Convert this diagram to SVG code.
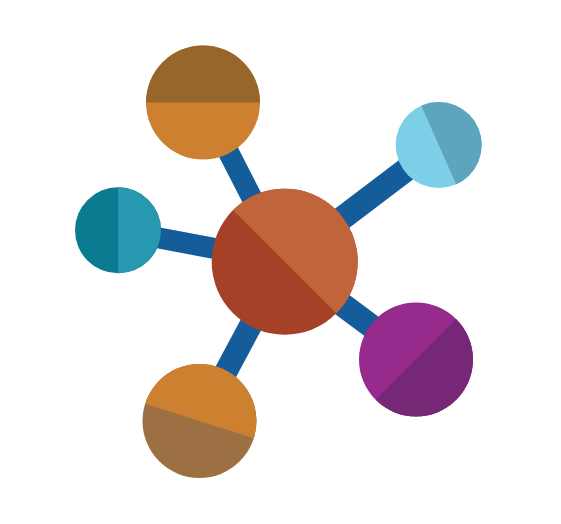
<svg xmlns="http://www.w3.org/2000/svg" width="561" height="524" viewBox="0 0 561 524">
  <style>
    .conn { stroke: #145C9A; fill: none; stroke-linecap: butt; }
  </style>
  <defs>
    <clipPath id="c-top"><circle cx="203" cy="102.5" r="57"/></clipPath>
    <clipPath id="c-tr"><circle cx="438.7" cy="145" r="43"/></clipPath>
    <clipPath id="c-left"><circle cx="118" cy="230.3" r="43"/></clipPath>
    <clipPath id="c-center"><circle cx="284.7" cy="261.7" r="73"/></clipPath>
    <clipPath id="c-br"><circle cx="416" cy="359.5" r="57"/></clipPath>
    <clipPath id="c-bl"><circle cx="199.5" cy="421" r="57"/></clipPath>
  </defs>
  <rect width="561" height="524" fill="#FFFFFF"/>
  <g id="connectors">
    <line class="conn" x1="284.7" y1="261.7" x2="203" y2="102.5" stroke-width="21"/>
    <line class="conn" x1="284.7" y1="261.7" x2="438.7" y2="145" stroke-width="24"/>
    <line class="conn" x1="284.7" y1="261.7" x2="118" y2="230.3" stroke-width="21"/>
    <line class="conn" x1="284.7" y1="261.7" x2="416" y2="359.5" stroke-width="24"/>
    <line class="conn" x1="284.7" y1="261.7" x2="199.5" y2="421" stroke-width="23"/>
  </g>
  <g id="node-top" clip-path="url(#c-top)">
    <rect x="140" y="40" width="130" height="130" fill="#CC8030"/>
    <rect x="140" y="40" width="130" height="62.5" fill="#98652A"/>
  </g>
  <g id="node-top-right" clip-path="url(#c-tr)">
    <rect x="390" y="95" width="100" height="100" fill="#7DCFE8"/>
    <rect x="438.7" y="85" width="60" height="120" fill="#5DA4BF" transform="rotate(-23.9 438.7 145)"/>
  </g>
  <g id="node-left" clip-path="url(#c-left)">
    <rect x="70" y="180" width="100" height="100" fill="#0B7B92"/>
    <rect x="118" y="180" width="52" height="100" fill="#2698B0"/>
  </g>
  <g id="node-center" clip-path="url(#c-center)">
    <rect x="205" y="182" width="160" height="160" fill="#A44127"/>
    <rect x="284.7" y="181.7" width="90" height="160" fill="#C0653A" transform="rotate(-45 284.7 261.7)"/>
  </g>
  <g id="node-bottom-right" clip-path="url(#c-br)">
    <rect x="350" y="295" width="130" height="130" fill="#962A8D"/>
    <rect x="416" y="294.5" width="70" height="130" fill="#762775" transform="rotate(45 416 359.5)"/>
  </g>
  <g id="node-bottom-left" clip-path="url(#c-bl)">
    <rect x="135" y="355" width="130" height="130" fill="#9D7044"/>
    <rect x="134.5" y="351" width="130" height="70" fill="#CC8030" transform="rotate(17.6 199.5 421)"/>
  </g>
</svg>
